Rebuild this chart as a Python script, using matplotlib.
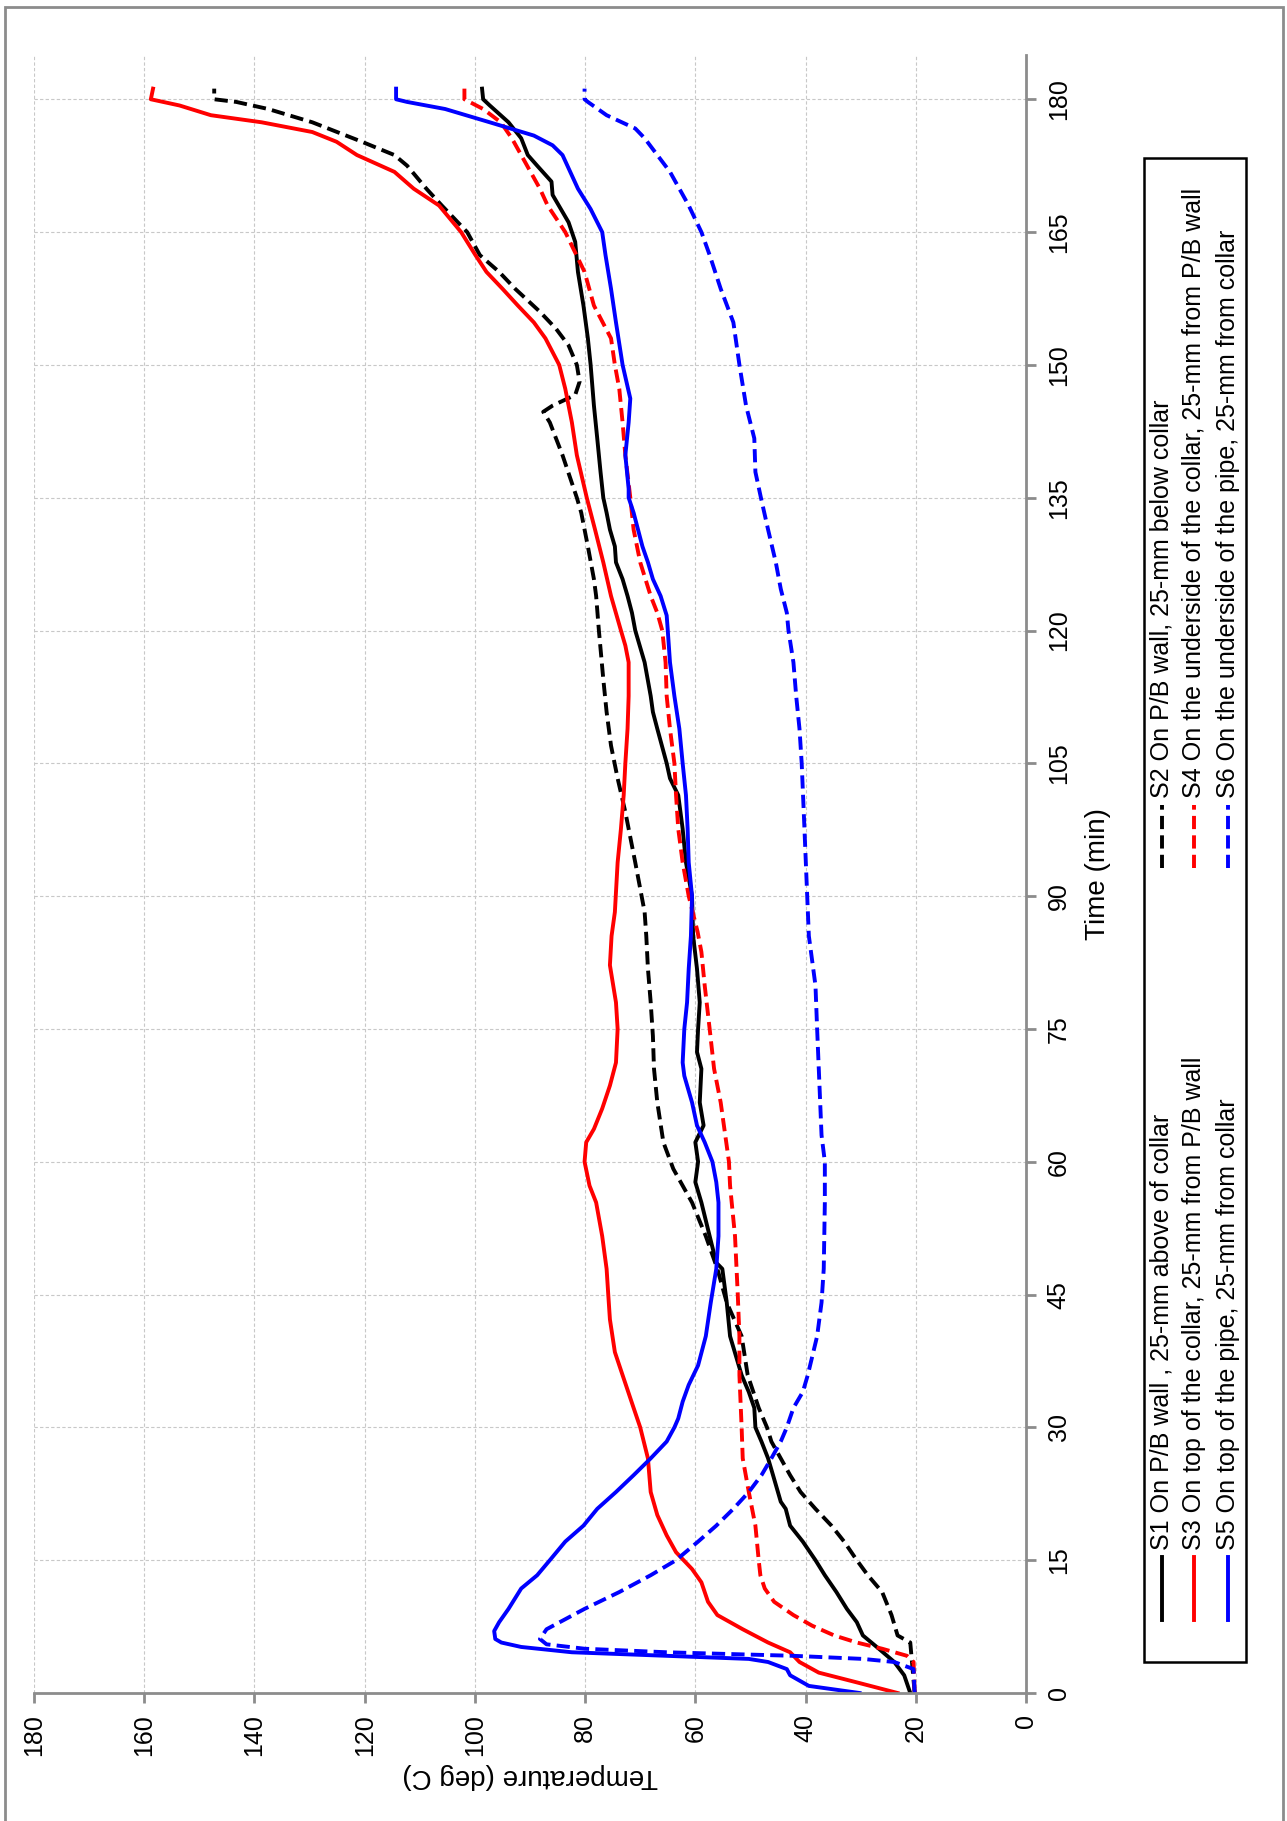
import matplotlib
matplotlib.use("Agg")
import matplotlib.pyplot as plt
from matplotlib.lines import Line2D
from matplotlib.patches import Rectangle

# ---- data (time in min, temperature in deg C) ----
s1_time = [0, 2.0, 3.5, 5.0, 6.5, 8.0, 9.5, 11.4, 13.3, 15, 17.1, 18.9, 20.8, 21.6, 24.6, 26.5, 28.4, 30,
           32.2, 34.0, 35.9, 40.3, 44.1, 47.9, 48.6, 51.6, 55.4, 57.7, 60, 62.2, 64.1, 66.7, 70.5, 72.4, 75,
           78, 81.8, 85.5, 90, 93.8, 97.6, 101.4, 103.3, 105, 108.9, 110.8, 112.6, 116.4, 120, 122, 123.9,
           125.8, 127.7, 129.5, 131.4, 133.3, 135, 137.9, 141.7, 145.4, 150, 153, 156.7, 160.5, 163.9, 166.1,
           169.2, 170.7, 172.5, 173.7, 175.6, 177.4, 179.3, 180, 181.2]
s1_temp = [21.0, 22.1, 23.9, 26.7, 29.6, 30.7, 32.5, 34.4, 36.5, 38.2, 40.5, 42.8, 43.6, 44.5, 45.9, 46.8, 48.0, 49.1,
           49.3, 50.3, 51.6, 53.7, 54.3, 55.1, 56.2, 57.4, 58.9, 60.0, 59.5, 60.0, 58.5, 59.2, 58.9, 59.7, 59.5,
           59.2, 59.7, 60.4, 60.6, 61.7, 62.3, 63.1, 64.6, 65.2, 66.9, 67.7, 68.1, 69.2, 70.9, 71.5, 72.3,
           73.2, 74.4, 74.6, 75.5, 76.1, 76.7, 77.2, 77.8, 78.4, 79.0, 79.5, 80.3, 81.3, 81.8, 83.0,
           85.9, 86.1, 88.7, 90.4, 91.6, 93.9, 97.3, 98.5, 98.7]

s2_time = [0, 5.7, 6.5, 8.8, 11.4, 13.3, 15, 17.1, 18.9, 20.8, 22.7, 24.6, 26.5, 28.4, 30, 32.2, 35.9, 40.3,
           44.1, 47.9, 51.6, 55.4, 59.2, 62.2, 66.7, 70.5, 74.2, 78, 81.8, 85.5, 88.2, 93.8, 99.5, 103.3, 107,
           110.8, 114.5, 120, 123.9, 125.8, 129.5, 133.3, 135, 139.8, 143.5, 144.7, 145.4, 146.6, 148.1, 150,
           152.2, 154.1, 156, 158.6, 160.5, 162.4, 165, 168, 169.9, 172.5, 173.7, 175.2, 177.4, 178.9, 179.7,
           180, 181.2]
s2_temp = [20.2, 21.0, 23.3, 24.4, 26.1, 28.7, 30.7, 33.0, 35.3, 38.2, 40.9, 42.8, 44.5, 46.2, 47.0, 48.5, 50.5, 51.6,
           54.3, 56.0, 58.1, 60.6, 64.0, 65.8, 66.9, 67.5, 67.7, 68.1, 68.6, 68.9, 69.2, 70.9, 72.7, 74.1, 75.3,
           76.1, 76.7, 77.5, 78.0, 78.4, 79.5, 80.7, 81.5, 84.1, 86.4, 87.6, 85.9, 81.8, 81.0, 81.5,
           83.0, 85.3, 88.2, 92.7, 95.6, 99.1, 101.4, 106.0, 108.8, 112.3, 114.6, 120.5, 129.5, 137.5, 143.3,
           147.3, 147.3]

s3_time = [0, 1.2, 2.3, 3.5, 4.6, 5.7, 7.2, 8.8, 10.3, 12.5, 14.0, 15.9, 17.8, 20.1, 22.7, 26.5, 30, 32.2, 35.9,
           38.5, 42.2, 45, 47.9, 51.6, 55.4, 57.3, 60, 62.2, 63.7, 66, 68.6, 71.2, 75, 78, 82.2, 85.5, 88.2,
           93.8, 97.6, 101.4, 105, 108.9, 112.6, 116.4, 118.3, 120, 123.9, 127.7, 131.4, 135, 139.8, 143.5,
           147.3, 150, 153, 154.8, 156.7, 158.6, 160.5, 162.4, 165, 168, 169.9, 171.8, 173.7, 175.2, 176.3,
           177.4, 178.2, 179.3, 180, 181.2]
s3_temp = [23.3, 30.7, 37.6, 41.1, 42.8, 46.8, 51.4, 56.0, 57.7, 58.9, 60.6, 63.5, 65.2, 66.9, 68.1, 68.6, 70.0, 71.2, 73.2,
           74.6, 75.5, 75.8, 76.1, 76.9, 78.0, 79.2, 80.1, 79.8, 78.4, 76.9, 75.5, 74.4, 74.1, 74.4, 75.5, 75.2, 74.6,
           74.1, 73.5, 73.0, 72.7, 72.3, 72.1, 72.1, 72.7, 73.5, 75.3, 76.7, 78.2, 79.7, 81.5, 82.4,
           83.6, 84.7, 87.2, 89.3, 92.2, 95.0, 97.9, 99.9, 102.5, 106.5, 111.1, 114.6, 121.4, 125.1, 129.5,
           138.7, 147.9, 153.6, 158.8, 158.4]

s4_time = [0, 3.5, 4.2, 5.0, 5.7, 6.5, 7.6, 8.8, 10.3, 11.8, 13.3, 15, 18.9, 22.7, 26.5, 30, 35.9, 40.3, 45,
           51.6, 57.3, 60, 66.7, 70.5, 75, 79.9, 83.7, 86, 90, 93.8, 97.6, 101.4, 105, 108.9, 112.6, 116.4,
           120, 122, 123.9, 127.7, 131.4, 135, 139.8, 143.5, 147.3, 150, 153, 156.7, 160.5, 165, 168, 169.9,
           173.7, 175.6, 177.4, 178.9, 180, 181.2]
s4_temp = [20.2, 20.4, 21.6, 26.1, 30.7, 34.8, 38.8, 42.2, 45.7, 47.4, 48.2, 48.5, 49.1, 50.3, 51.4, 51.6, 52.0, 52.0, 52.3,
           52.8, 53.7, 53.9, 55.4, 56.6, 57.4, 58.3, 58.9, 59.6, 61.2, 62.3, 63.1, 63.5, 63.8, 64.6, 65.2, 65.4,
           66.0, 66.9, 68.1, 70.0, 71.2, 71.8, 72.7, 73.2, 73.8, 74.6, 75.3, 78.4, 80.1, 83.6, 86.8, 88.2,
           91.6, 93.3, 95.3, 98.5, 101.9, 101.9]

s5_time = [0, 0.8, 2.0, 2.7, 3.5, 3.85, 4.2, 4.6, 5.2, 5.7, 6.1, 7.0, 8.0, 9.5, 11.8, 13.3, 15, 17.1, 18.9, 20.8,
           22.7, 24.6, 26.5, 28.4, 30, 31, 32.9, 34.8, 37.0, 40.3, 44.1, 47.9, 51.6, 55.4, 57.7, 60, 62.2, 64.1,
           66.7, 69.7, 71.2, 75, 78, 81.8, 85.5, 90, 93.8, 97.6, 101.4, 105, 108.9, 112.6, 116.4, 120, 121.7,
           123.9, 125.8, 127.7, 129.5, 131.4, 133.3, 135, 136, 139.8, 143.5, 146.2, 150, 154.8, 158.6, 162.4,
           165, 167.6, 169.9, 173.7, 174.8, 175.9, 177.4, 178.9, 179.7, 180, 181.2]
s5_temp = [30.2, 39.4, 42.8, 43.4, 46.8, 50.3, 65.2, 82.4, 91.6, 95.2, 96.3, 96.5, 95.6, 93.9, 91.6, 88.7, 86.4, 83.6, 80.3, 77.8,
           74.4, 71.2, 68.1, 65.2, 63.8, 63.1, 62.3, 61.2, 59.5, 58.1, 57.2, 56.2, 55.8, 55.8, 56.2, 56.9, 58.3, 59.7,
           60.6, 62.0, 62.3, 62.0, 61.5, 61.2, 60.8, 60.6, 61.2, 61.4, 61.7, 62.3, 62.9, 63.8, 64.6, 65.0, 65.2,
           66.3, 67.7, 68.6, 69.6, 70.4, 71.2, 72.1, 72.1, 72.7, 72.1, 71.8, 73.2, 74.4, 75.3, 76.3,
           76.9, 79.0, 81.3, 84.1, 85.9, 89.3, 97.3, 105.4, 112.3, 114.3, 114.3]

s6_time = [0, 2.7, 3.5, 3.85, 4.2, 4.6, 5.0, 5.5, 6.1, 7.2, 9.5, 11.4, 13.3, 15, 17.1, 18.9, 20.8, 22.7, 24.6,
           26.5, 28.4, 30, 32.2, 34.0, 35.9, 40.3, 44.1, 47.9, 55.4, 60, 63, 70.5, 75, 79.9, 85.5, 90, 97.6,
           105, 108.9, 112.6, 116.4, 120, 122, 124.7, 127.7, 131.4, 135, 137.9, 141.7, 145.4, 150, 154.8,
           158.6, 162.4, 165, 168, 171.8, 175.6, 176.7, 178.2, 179.7, 180, 181.2]
s6_temp = [20.2, 20.4, 23.9, 29.6, 42.2, 65.2, 80.1, 87.0, 88.2, 87.0, 80.1, 73.8, 68.1, 63.5, 59.5, 56.2, 53.1, 50.3, 48.0,
           46.2, 44.5, 43.4, 42.2, 40.5, 39.6, 37.9, 37.1, 36.7, 36.5, 36.5, 37.1, 37.6, 37.9, 38.2, 39.4, 39.7, 40.2,
           40.7, 41.1, 41.7, 42.2, 43.1, 43.4, 44.5, 45.4, 46.8, 48.1, 49.1, 49.3, 50.8, 52.0, 53.1,
           55.4, 57.4, 58.9, 61.2, 64.6, 69.2, 70.9, 76.1, 79.5, 80.1, 80.1]

labels = ["S1 On P/B wall , 25-mm above of collar",
          "S2 On P/B wall, 25-mm below collar",
          "S3 On top of the collar, 25-mm from P/B wall",
          "S4 On the underside of the collar, 25-mm from P/B wall",
          "S5 On top of the pipe, 25-mm from collar",
          "S6 On the underside of the pipe, 25-mm from collar"]
temp_ticks = [0, 20, 40, 60, 80, 100, 120, 140, 160, 180]
time_ticks = [0, 15, 30, 45, 60, 75, 90, 105, 120, 135, 150, 165, 180]

W, H = 1287, 1821
plt.rcParams['font.family'] = ['Liberation Sans', 'DejaVu Sans']
fig = plt.figure(figsize=(W / 100, H / 100), dpi=100)


def fx(px):
    return px / W


def fy(py):
    return 1 - py / H


# the chart is drawn turned a quarter turn: temperature runs along the bottom, time up the right side
ax = fig.add_axes([fx(34), fy(1693), fx(1026) - fx(34), fy(55) - fy(1693)])
dash = (3.4, 1.6)
series = [(s1_temp, s1_time, 'black', '-'), (s2_temp, s2_time, 'black', '--'),
          (s3_temp, s3_time, 'red', '-'), (s4_temp, s4_time, 'red', '--'),
          (s5_temp, s5_time, 'blue', '-'), (s6_temp, s6_time, 'blue', '--')]
for temp, time, col, ls in series:
    ln, = ax.plot(temp, time, color=col, lw=2.8, ls=ls)
    if ls == '--':
        ln.set_dashes(dash)

ax.set_xlim(180, 0)
ax.set_ylim(0, 185)
ax.set_xticks(temp_ticks)
ax.set_yticks(time_ticks)
ax.yaxis.tick_right()
ax.grid(True, color='#c8c8c8', ls=(0, (3, 2)), lw=0.8)
for side in ['left', 'top']:
    ax.spines[side].set_visible(False)
for side in ['bottom', 'right']:
    ax.spines[side].set_color('#8c8c8c')
    ax.spines[side].set_linewidth(2)
ax.tick_params(axis='both', colors='#8c8c8c', labelcolor='black', length=7, width=2,
               labelsize=18, direction='out', pad=8)
for lab in ax.get_xticklabels():
    lab.set_rotation(90)
for lab in ax.get_yticklabels():
    lab.set_rotation(90)
    lab.set_va('center')

fig.text(fx(530), fy(1776), 'Temperature (deg C)', rotation=180, ha='center', va='center', fontsize=20)
fig.text(fx(1098), fy(874), 'Time (min)', rotation=90, ha='center', va='center', fontsize=20)

# legend box, turned like the chart
fig.add_artist(Rectangle((fx(1144), fy(1662)), fx(1246) - fx(1144), fy(158) - fy(1662),
                         transform=fig.transFigure, fill=False, ec='black', lw=1.8))
rows_x = [1162, 1194, 1228]
cols = [(1620, 1557, 1550), (868, 805, 798)]
order = [(0, 0), (1, 0), (0, 1), (1, 1), (0, 2), (1, 2)]
for i, (c, r) in enumerate(order):
    temp, time, col, ls = series[i]
    y0, y1, ytxt = cols[c]
    x = rows_x[r]
    ln = Line2D([fx(x), fx(x)], [fy(y0), fy(y1)], transform=fig.transFigure, color=col, lw=2.8, ls=ls)
    if ls == '--':
        ln.set_dashes(dash)
    fig.add_artist(ln)
    fig.text(fx(x), fy(ytxt), labels[i], rotation=90, ha='center', va='bottom', fontsize=18)

# outer frame
fig.add_artist(Rectangle((fx(5), -0.01), fx(1283) - fx(5), fy(7) + 0.01,
                         transform=fig.transFigure, fill=False, ec='#8c8c8c', lw=2))

fig.savefig('out.png', dpi=100)
